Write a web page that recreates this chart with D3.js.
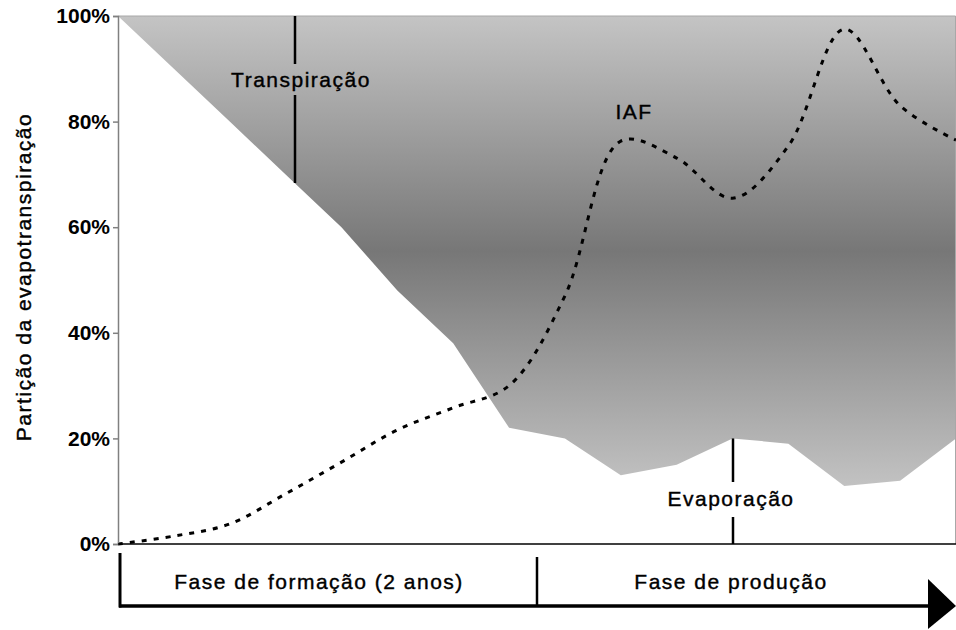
<!DOCTYPE html>
<html>
<head>
<meta charset="utf-8">
<script src="https://cdn.jsdelivr.net/npm/d3@7"></script>
<style>
  body { margin: 0; background: #fff; }
  svg { display: block; font-family: "Liberation Sans", Arial, sans-serif; }
</style>
</head>
<body>
<svg id="chart" width="956" height="630"></svg>
<script>
"use strict";

// ─── Data ─────────────────────────────────────────────────────────────────────
const steps = d3.range(16);                       // evenly spaced time steps
const evaporation = [100, 90, 80, 70, 60, 48, 38, 22, 20, 13, 15, 20, 19, 11, 12, 20];
const iaf = [0, 1.5, 3.8, 9.5, 15.5, 21.6, 25.8, 30, 47, 76.3, 73.1, 65.5, 75.4, 97.5, 83, 76.5];
const yTicks = [0, 20, 40, 60, 80, 100];
const phases = ["Fase de formação (2 anos)", "Fase de produção"];

const svg = d3.select("#chart");
const x = d3.scaleLinear().domain([0, 15]).range([118, 956]);
const y = d3.scaleLinear().domain([0, 100]).range([544, 16]);

// reflected vertical grey gradient: light → dark → light
const defs = svg.append("defs");
const grad = defs.append("linearGradient")
  .attr("id", "transp").attr("gradientUnits", "userSpaceOnUse")
  .attr("x1", 0).attr("x2", 0).attr("y1", y(100)).attr("y2", y(d3.min(evaporation)));
grad.append("stop").attr("offset", 0).attr("stop-color", "#c4c4c4");
grad.append("stop").attr("offset", 0.5).attr("stop-color", "#777777");
grad.append("stop").attr("offset", 1).attr("stop-color", "#c2c2c2");

// transpiration area between the evaporation share and 100%
const area = d3.area()
  .x(i => x(i))
  .y0(i => y(evaporation[i]))
  .y1(() => y(100));
svg.append("path").datum(steps)
  .attr("d", area)
  .attr("fill", "url(#transp)");

// plot frame (top/right) in light grey
svg.append("path")
  .attr("d", `M${x(0)},${y(100)}H${x(15) - 0.5}V${y(0)}`)
  .attr("fill", "none").attr("stroke", "#a8a8a8").attr("stroke-width", 1);

// IAF dotted curve
const line = d3.line()
  .x(i => x(i))
  .y(i => y(iaf[i]))
  .curve(d3.curveCatmullRom.alpha(0.5));
svg.append("path").datum(steps)
  .attr("d", line)
  .attr("fill", "none")
  .attr("stroke", "#000")
  .attr("stroke-width", 3)
  .attr("stroke-dasharray", "5,7");

// y axis
const yAxis = svg.append("g")
  .attr("transform", `translate(${x(0)},0)`)
  .call(d3.axisLeft(y).tickValues(yTicks).tickFormat(d => d + "%").tickSize(5).tickPadding(3));
yAxis.select(".domain").attr("stroke", "#808080").attr("stroke-width", 1.5);
yAxis.selectAll(".tick line").attr("stroke", "#808080").attr("stroke-width", 1.5);
yAxis.selectAll(".tick text")
  .attr("font-size", 21).attr("font-weight", "bold").attr("fill", "#000")
  .attr("font-family", "Liberation Sans, Arial, sans-serif");

// 0% baseline
svg.append("line")
  .attr("x1", x(0)).attr("x2", x(15))
  .attr("y1", y(0)).attr("y2", y(0))
  .attr("stroke", "#000").attr("stroke-width", 1.5);

// text helper: slightly heavier regular Arial look
const styleText = t => t
  .attr("font-size", 21).attr("letter-spacing", 1.5)
  .attr("fill", "#000").attr("stroke", "#000").attr("stroke-width", 0.4);

// y axis title
styleText(svg.append("text")
  .attr("transform", `translate(23,277) rotate(-90)`)
  .attr("text-anchor", "middle").attr("dominant-baseline", "central"))
  .text("Partição da evapotranspiração");

// annotation markers
const labelText = (tx, ty, s) => styleText(svg.append("text")
  .attr("x", tx).attr("y", ty)
  .attr("text-anchor", "middle"))
  .text(s);
const seg = (x0, y0, y1, w) => svg.append("line")
  .attr("x1", x0).attr("x2", x0).attr("y1", y0).attr("y2", y1)
  .attr("stroke", "#000").attr("stroke-width", w);

const tX = 295;
seg(tX, y(100), 64, 2.5);
seg(tX, 95, 183, 2.5);
labelText(301, 87, "Transpiração");

const eX = 733;
seg(eX, y(evaporation[11]), 482, 2.5);
seg(eX, 517, y(0), 2.5);
labelText(731, 506, "Evaporação");

labelText(634, 119, "IAF");

// bottom phase axis with arrow
const axisY = 606;
seg(120, 553, axisY + 1.5, 3);
seg(537, 557, axisY, 2.5);
svg.append("line")
  .attr("x1", 119).attr("x2", 932)
  .attr("y1", axisY).attr("y2", axisY)
  .attr("stroke", "#000").attr("stroke-width", 3.5);
svg.append("path")
  .attr("d", `M928,579L956,${axisY}L928,629Z`)
  .attr("fill", "#000");

labelText(319, 589, phases[0]);
labelText(731, 589, phases[1]);
</script>
</body>
</html>
